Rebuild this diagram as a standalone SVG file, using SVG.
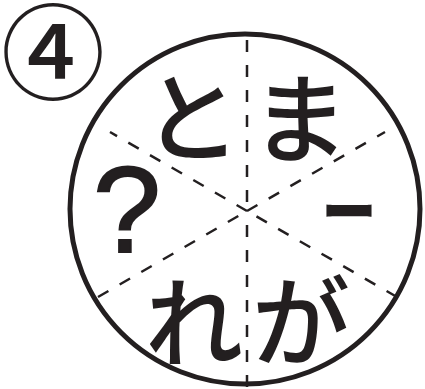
<svg xmlns="http://www.w3.org/2000/svg" width="425" height="389" viewBox="0 0 425 389">
<style>
.k{font-family:"Noto Sans CJK JP","Noto Sans",sans-serif;font-weight:500;fill:#231f20;text-anchor:middle}
.d{stroke:#231f20;stroke-width:2.5;stroke-dasharray:12 13;fill:none}
</style>
<rect width="425" height="389" fill="#fff"/>
<g id="badge">
<text class="k" x="53" y="92" font-size="104" font-weight="700">④</text>
</g>
<g id="wheel">
<circle cx="245" cy="209" r="175" fill="none" stroke="#231f20" stroke-width="5"/>
</g>
<g id="connectors">
<line class="d" x1="247" y1="40" x2="247" y2="211"/>
<line class="d" x1="247" y1="387" x2="247" y2="220"/>
<line class="d" x1="247" y1="211" x2="110" y2="132"/>
<line class="d" x1="247" y1="211" x2="385" y2="132"/>
<line class="d" x1="98" y1="297" x2="240" y2="215"/>
<line class="d" x1="397" y1="297" x2="254" y2="215"/>
</g>
<g id="n-to"><text class="k" x="192" y="154" font-size="98">と</text></g>
<g id="n-ma"><text class="k" x="300" y="155" font-size="98">ま</text></g>
<g id="n-q"><text class="k" x="127" y="252" font-size="122" font-weight="400" stroke="#231f20" stroke-width="2" style="font-family:'Liberation Sans',sans-serif">?</text></g>
<g id="n-bar"><text class="k" x="0" y="0" font-size="100" font-weight="700" transform="translate(349 249) scale(0.56 1)">ー</text></g>
<g id="n-re"><text class="k" x="194" y="359" font-size="98">れ</text></g>
<g id="n-ga"><text class="k" x="301" y="358" font-size="98">が</text></g>
</svg>
